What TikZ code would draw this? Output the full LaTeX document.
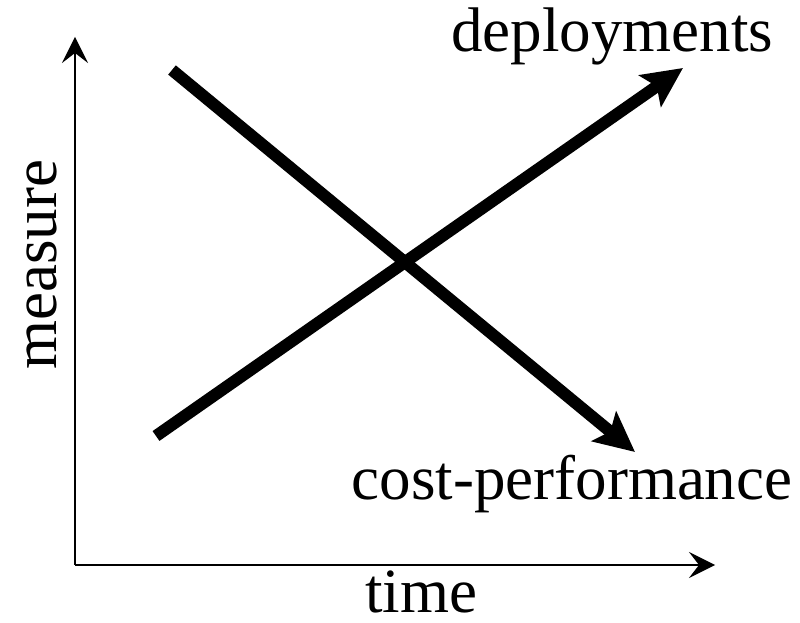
\documentclass[tikz,border=0pt]{standalone}
\usepackage{fontspec}
\setmainfont{Liberation Serif}
\usetikzlibrary{arrows.meta}
\begin{document}
\begin{tikzpicture}[x=1pt,y=1pt,
  axis/.style={line width=2pt,-{Stealth[length=26pt,width=26pt,inset=10pt]}},
  trend/.style={line width=12pt,-{Stealth[length=40pt,width=38pt,inset=8pt]}},
  lbl/.style={font=\fontsize{63}{63}\selectfont,inner sep=0pt}]
\useasboundingbox (0,0) rectangle (800,623);
% axes
\coordinate (o) at (75,58);
\coordinate (ytop) at (75,586);
\coordinate (xend) at (715,58);
\draw[axis] (o) -- (ytop);
\draw[axis] (o) -- (xend);
% trend lines
\coordinate (d0) at (156,187);
\coordinate (d1) at (683,555);
\coordinate (c0) at (172,553);
\coordinate (c1) at (635,171);
\draw[trend] (d0) -- (d1);
\draw[trend] (c0) -- (c1);
% labels
\node[lbl,anchor=base] (tlab) at (421,10) {time};
\node[lbl,anchor=base,rotate=90] (mlab) at (56,358) {measure};
\node[lbl,anchor=base] (dlab) at (612,571) {deployments};
\node[lbl,anchor=base] (clab) at (572,123) {cost-performance};
\end{tikzpicture}
\end{document}
